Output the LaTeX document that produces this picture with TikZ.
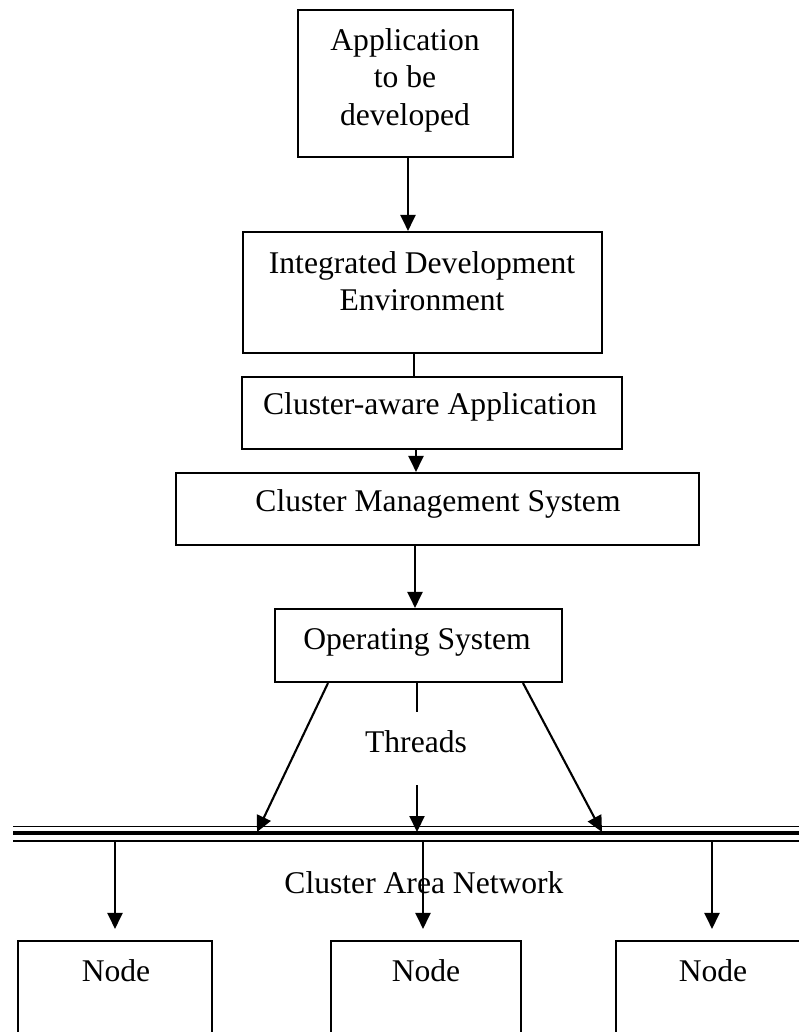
\documentclass[tikz,border=0pt]{standalone}
\usepackage{fontspec}
\setmainfont{Liberation Serif}
\usetikzlibrary{arrows.meta}
\begin{document}
\begin{tikzpicture}[x=1pt,y=-1pt,
  box/.style={draw, line width=2.1pt, inner sep=0pt},
  lbl/.style={font=\fontsize{31.6}{37.5}\selectfont, align=center, inner sep=0pt},
  arr/.style={line width=2.1pt, -{Triangle[length=16pt,width=15pt]}},
  link/.style={line width=2.1pt},
  bar/.style={line width=1.9pt},
]
\useasboundingbox (0,0) rectangle (799,1032);
\clip (0,0) rectangle (799,1032);
\fill[white] (0,0) rectangle (799,1032);

% software stack
\node[box, minimum width=215pt, minimum height=147pt] (app) at (405.5,83.5) {};
\node[lbl] (appT) at (405,80) {Application\\to be\\developed};
\node[box, minimum width=359pt, minimum height=121pt] (ide) at (422.5,292.5) {};
\node[lbl] (ideT) at (422,281) {Integrated Development\\Environment};
\node[box, minimum width=380pt, minimum height=72pt] (caa) at (432,413) {};
\node[lbl] (caaT) at (430,407) {Cluster-aware Application};
\node[box, minimum width=523pt, minimum height=72pt] (cms) at (437.5,509) {};
\node[lbl] (cmsT) at (438,504) {Cluster Management System};
\node[box, minimum width=287pt, minimum height=73pt] (os) at (418.5,645.5) {};
\node[lbl] (osT) at (417,642) {Operating System};

\draw[arr] ([xshift=2.5pt]app.south) -- ([xshift=-14.5pt]ide.north);
\draw[link] ([xshift=-8.5pt]ide.south) -- ([xshift=-18pt]caa.north);
\draw[arr] ([xshift=-16pt]caa.south) -- ([xshift=-21.5pt]cms.north);
\draw[arr] ([xshift=-22.5pt]cms.south) -- ([xshift=-3.5pt]os.north);

% threads down to the network
\node[lbl] (thr) at (416,742) {Threads};
\coordinate (thrTop) at (417,712);
\coordinate (thrBot) at (417,785);
\coordinate (tA) at (257,832);
\coordinate (tB) at (417,832);
\coordinate (tC) at (602,832);

% cluster area network bar
\coordinate (netL) at (13,833);
\coordinate (netR) at (812,833);
\draw[bar] ([yshift=6.5pt]netL) -- ([yshift=6.5pt]netR);
\draw[line width=4pt] (netL) -- (netR);
\draw[bar] ([yshift=-8pt]netL) -- ([yshift=-8pt]netR);

\draw[arr] ([xshift=-90.5pt]os.south) -- (tA);
\draw[link] ([xshift=-1.5pt]os.south) -- (thrTop);
\draw[arr] (thrBot) -- (tB);
\draw[arr] ([xshift=104.5pt]os.south) -- (tC);

\node[lbl] (can) at (424,883) {Cluster Area Network};

% cluster nodes
\node[box, minimum width=194pt, minimum height=119pt] (n1) at (115,1000.5) {};
\node[lbl] (n1T) at (116,971) {Node};
\node[box, minimum width=190pt, minimum height=119pt] (n2) at (426,1000.5) {};
\node[lbl] (n2T) at (426,971) {Node};
\node[box, minimum width=194pt, minimum height=119pt] (n3) at (713,1000.5) {};
\node[lbl] (n3T) at (713,971) {Node};

\coordinate (dL) at (115,841);
\coordinate (dM) at (423,841);
\coordinate (dR) at (712,841);
\draw[arr] (dL) -- ([yshift=11pt]n1.north);
\draw[arr] (dM) -- ([xshift=-3pt,yshift=11pt]n2.north);
\draw[arr] (dR) -- ([xshift=-1pt,yshift=11pt]n3.north);
\end{tikzpicture}
\end{document}
